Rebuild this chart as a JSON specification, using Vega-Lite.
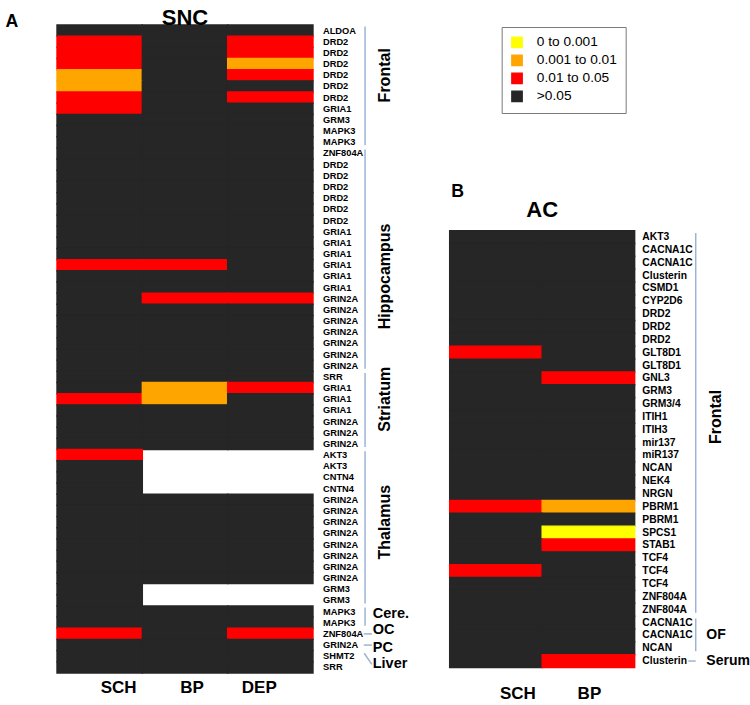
{
  "$schema": "https://vega.github.io/schema/vega-lite/v6.json",
  "padding": {"left": 5, "top": 7, "right": 0, "bottom": 0},
  "config": {"font": "Liberation Sans", "view": {"stroke": null}},
  "spacing": 50.67,
  "bounds": "flush",
  "resolve": {"scale": {"color": "independent", "stroke": "independent"}, "legend": {"color": "independent", "stroke": "independent"}},
  "datasets": {
    "A": [
      {"r": 1, "g": "ALDOA", "SCH": ">0.05", "BP": ">0.05", "DEP": ">0.05"},
      {"r": 2, "g": "DRD2", "SCH": "0.01 to 0.05", "BP": ">0.05", "DEP": "0.01 to 0.05"},
      {"r": 3, "g": "DRD2", "SCH": "0.01 to 0.05", "BP": ">0.05", "DEP": "0.01 to 0.05"},
      {"r": 4, "g": "DRD2", "SCH": "0.01 to 0.05", "BP": ">0.05", "DEP": "0.001 to 0.01"},
      {"r": 5, "g": "DRD2", "SCH": "0.001 to 0.01", "BP": ">0.05", "DEP": "0.01 to 0.05"},
      {"r": 6, "g": "DRD2", "SCH": "0.001 to 0.01", "BP": ">0.05", "DEP": ">0.05"},
      {"r": 7, "g": "DRD2", "SCH": "0.01 to 0.05", "BP": ">0.05", "DEP": "0.01 to 0.05"},
      {"r": 8, "g": "GRIA1", "SCH": "0.01 to 0.05", "BP": ">0.05", "DEP": ">0.05"},
      {"r": 9, "g": "GRM3", "SCH": ">0.05", "BP": ">0.05", "DEP": ">0.05"},
      {"r": 10, "g": "MAPK3", "SCH": ">0.05", "BP": ">0.05", "DEP": ">0.05"},
      {"r": 11, "g": "MAPK3", "SCH": ">0.05", "BP": ">0.05", "DEP": ">0.05"},
      {"r": 12, "g": "ZNF804A", "SCH": ">0.05", "BP": ">0.05", "DEP": ">0.05"},
      {"r": 13, "g": "DRD2", "SCH": ">0.05", "BP": ">0.05", "DEP": ">0.05"},
      {"r": 14, "g": "DRD2", "SCH": ">0.05", "BP": ">0.05", "DEP": ">0.05"},
      {"r": 15, "g": "DRD2", "SCH": ">0.05", "BP": ">0.05", "DEP": ">0.05"},
      {"r": 16, "g": "DRD2", "SCH": ">0.05", "BP": ">0.05", "DEP": ">0.05"},
      {"r": 17, "g": "DRD2", "SCH": ">0.05", "BP": ">0.05", "DEP": ">0.05"},
      {"r": 18, "g": "DRD2", "SCH": ">0.05", "BP": ">0.05", "DEP": ">0.05"},
      {"r": 19, "g": "GRIA1", "SCH": ">0.05", "BP": ">0.05", "DEP": ">0.05"},
      {"r": 20, "g": "GRIA1", "SCH": ">0.05", "BP": ">0.05", "DEP": ">0.05"},
      {"r": 21, "g": "GRIA1", "SCH": ">0.05", "BP": ">0.05", "DEP": ">0.05"},
      {"r": 22, "g": "GRIA1", "SCH": "0.01 to 0.05", "BP": "0.01 to 0.05", "DEP": ">0.05"},
      {"r": 23, "g": "GRIA1", "SCH": ">0.05", "BP": ">0.05", "DEP": ">0.05"},
      {"r": 24, "g": "GRIA1", "SCH": ">0.05", "BP": ">0.05", "DEP": ">0.05"},
      {"r": 25, "g": "GRIN2A", "SCH": ">0.05", "BP": "0.01 to 0.05", "DEP": "0.01 to 0.05"},
      {"r": 26, "g": "GRIN2A", "SCH": ">0.05", "BP": ">0.05", "DEP": ">0.05"},
      {"r": 27, "g": "GRIN2A", "SCH": ">0.05", "BP": ">0.05", "DEP": ">0.05"},
      {"r": 28, "g": "GRIN2A", "SCH": ">0.05", "BP": ">0.05", "DEP": ">0.05"},
      {"r": 29, "g": "GRIN2A", "SCH": ">0.05", "BP": ">0.05", "DEP": ">0.05"},
      {"r": 30, "g": "GRIN2A", "SCH": ">0.05", "BP": ">0.05", "DEP": ">0.05"},
      {"r": 31, "g": "GRIN2A", "SCH": ">0.05", "BP": ">0.05", "DEP": ">0.05"},
      {"r": 32, "g": "SRR", "SCH": ">0.05", "BP": ">0.05", "DEP": ">0.05"},
      {"r": 33, "g": "GRIA1", "SCH": ">0.05", "BP": "0.001 to 0.01", "DEP": "0.01 to 0.05"},
      {"r": 34, "g": "GRIA1", "SCH": "0.01 to 0.05", "BP": "0.001 to 0.01", "DEP": ">0.05"},
      {"r": 35, "g": "GRIA1", "SCH": ">0.05", "BP": ">0.05", "DEP": ">0.05"},
      {"r": 36, "g": "GRIN2A", "SCH": ">0.05", "BP": ">0.05", "DEP": ">0.05"},
      {"r": 37, "g": "GRIN2A", "SCH": ">0.05", "BP": ">0.05", "DEP": ">0.05"},
      {"r": 38, "g": "GRIN2A", "SCH": ">0.05", "BP": ">0.05", "DEP": ">0.05"},
      {"r": 39, "g": "AKT3", "SCH": "0.01 to 0.05", "BP": null, "DEP": null},
      {"r": 40, "g": "AKT3", "SCH": ">0.05", "BP": null, "DEP": null},
      {"r": 41, "g": "CNTN4", "SCH": ">0.05", "BP": null, "DEP": null},
      {"r": 42, "g": "CNTN4", "SCH": ">0.05", "BP": null, "DEP": null},
      {"r": 43, "g": "GRIN2A", "SCH": ">0.05", "BP": ">0.05", "DEP": ">0.05"},
      {"r": 44, "g": "GRIN2A", "SCH": ">0.05", "BP": ">0.05", "DEP": ">0.05"},
      {"r": 45, "g": "GRIN2A", "SCH": ">0.05", "BP": ">0.05", "DEP": ">0.05"},
      {"r": 46, "g": "GRIN2A", "SCH": ">0.05", "BP": ">0.05", "DEP": ">0.05"},
      {"r": 47, "g": "GRIN2A", "SCH": ">0.05", "BP": ">0.05", "DEP": ">0.05"},
      {"r": 48, "g": "GRIN2A", "SCH": ">0.05", "BP": ">0.05", "DEP": ">0.05"},
      {"r": 49, "g": "GRIN2A", "SCH": ">0.05", "BP": ">0.05", "DEP": ">0.05"},
      {"r": 50, "g": "GRIN2A", "SCH": ">0.05", "BP": ">0.05", "DEP": ">0.05"},
      {"r": 51, "g": "GRM3", "SCH": ">0.05", "BP": null, "DEP": null},
      {"r": 52, "g": "GRM3", "SCH": ">0.05", "BP": null, "DEP": null},
      {"r": 53, "g": "MAPK3", "SCH": ">0.05", "BP": ">0.05", "DEP": ">0.05"},
      {"r": 54, "g": "MAPK3", "SCH": ">0.05", "BP": ">0.05", "DEP": ">0.05"},
      {"r": 55, "g": "ZNF804A", "SCH": "0.01 to 0.05", "BP": ">0.05", "DEP": "0.01 to 0.05"},
      {"r": 56, "g": "GRIN2A", "SCH": ">0.05", "BP": ">0.05", "DEP": ">0.05"},
      {"r": 57, "g": "SHMT2", "SCH": ">0.05", "BP": ">0.05", "DEP": ">0.05"},
      {"r": 58, "g": "SRR", "SCH": ">0.05", "BP": ">0.05", "DEP": ">0.05"}
    ],
    "B": [
      {"r": 1, "g": "AKT3", "SCH": ">0.05", "BP": ">0.05"},
      {"r": 2, "g": "CACNA1C", "SCH": ">0.05", "BP": ">0.05"},
      {"r": 3, "g": "CACNA1C", "SCH": ">0.05", "BP": ">0.05"},
      {"r": 4, "g": "Clusterin", "SCH": ">0.05", "BP": ">0.05"},
      {"r": 5, "g": "CSMD1", "SCH": ">0.05", "BP": ">0.05"},
      {"r": 6, "g": "CYP2D6", "SCH": ">0.05", "BP": ">0.05"},
      {"r": 7, "g": "DRD2", "SCH": ">0.05", "BP": ">0.05"},
      {"r": 8, "g": "DRD2", "SCH": ">0.05", "BP": ">0.05"},
      {"r": 9, "g": "DRD2", "SCH": ">0.05", "BP": ">0.05"},
      {"r": 10, "g": "GLT8D1", "SCH": "0.01 to 0.05", "BP": ">0.05"},
      {"r": 11, "g": "GLT8D1", "SCH": ">0.05", "BP": ">0.05"},
      {"r": 12, "g": "GNL3", "SCH": ">0.05", "BP": "0.01 to 0.05"},
      {"r": 13, "g": "GRM3", "SCH": ">0.05", "BP": ">0.05"},
      {"r": 14, "g": "GRM3/4", "SCH": ">0.05", "BP": ">0.05"},
      {"r": 15, "g": "ITIH1", "SCH": ">0.05", "BP": ">0.05"},
      {"r": 16, "g": "ITIH3", "SCH": ">0.05", "BP": ">0.05"},
      {"r": 17, "g": "mir137", "SCH": ">0.05", "BP": ">0.05"},
      {"r": 18, "g": "miR137", "SCH": ">0.05", "BP": ">0.05"},
      {"r": 19, "g": "NCAN", "SCH": ">0.05", "BP": ">0.05"},
      {"r": 20, "g": "NEK4", "SCH": ">0.05", "BP": ">0.05"},
      {"r": 21, "g": "NRGN", "SCH": ">0.05", "BP": ">0.05"},
      {"r": 22, "g": "PBRM1", "SCH": "0.01 to 0.05", "BP": "0.001 to 0.01"},
      {"r": 23, "g": "PBRM1", "SCH": ">0.05", "BP": ">0.05"},
      {"r": 24, "g": "SPCS1", "SCH": ">0.05", "BP": "0 to 0.001"},
      {"r": 25, "g": "STAB1", "SCH": ">0.05", "BP": "0.01 to 0.05"},
      {"r": 26, "g": "TCF4", "SCH": ">0.05", "BP": ">0.05"},
      {"r": 27, "g": "TCF4", "SCH": "0.01 to 0.05", "BP": ">0.05"},
      {"r": 28, "g": "TCF4", "SCH": ">0.05", "BP": ">0.05"},
      {"r": 29, "g": "ZNF804A", "SCH": ">0.05", "BP": ">0.05"},
      {"r": 30, "g": "ZNF804A", "SCH": ">0.05", "BP": ">0.05"},
      {"r": 31, "g": "CACNA1C", "SCH": ">0.05", "BP": ">0.05"},
      {"r": 32, "g": "CACNA1C", "SCH": ">0.05", "BP": ">0.05"},
      {"r": 33, "g": "NCAN", "SCH": ">0.05", "BP": ">0.05"},
      {"r": 34, "g": "Clusterin", "SCH": ">0.05", "BP": "0.01 to 0.05"}
    ]
  },
  "hconcat": [
    {
      "width": 341.33,
      "height": 648,
      "title": {"text": "SNC", "fontSize": 22, "fontWeight": "bold", "anchor": "middle", "frame": "group", "baseline": "alphabetic", "offset": 0, "dx": -42.67, "dy": 35, "color": "black"},
      "layer": [
        {
          "data": {"name": "A"},
          "transform": [{"fold": ["SCH", "BP", "DEP"], "as": ["col", "p"]}, {"filter": "datum.p != null"}],
          "mark": {"type": "rect", "strokeWidth": 1.4, "strokeOpacity": 1},
          "encoding": {
            "x": {"field": "col", "type": "nominal",
              "scale": {"domain": ["SCH", "BP", "DEP", "_g"], "paddingInner": 0, "paddingOuter": 0},
              "axis": {"values": ["SCH", "BP", "DEP"], "orient": "bottom", "domain": false, "ticks": false, "labelFontSize": 17, "labelFontWeight": "bold", "labelColor": "black", "labelPadding": 6.7, "labelAngle": 0, "title": null,
                "labelOffset": {"condition": [{"test": "datum.value === 'SCH'", "value": 19}, {"test": "datum.value === 'BP'", "value": 7}], "value": -11}}},
            "y": {"field": "r", "type": "ordinal",
              "scale": {"domain": [1,2,3,4,5,6,7,8,9,10,11,12,13,14,15,16,17,18,19,20,21,22,23,24,25,26,27,28,29,30,31,32,33,34,35,36,37,38,39,40,41,42,43,44,45,46,47,48,49,50,51,52,53,54,55,56,57,58], "paddingInner": 0, "paddingOuter": 0},
              "axis": {"labels": false, "ticks": false, "domain": false, "grid": false, "title": "A", "titleAngle": 0, "titleX": -52, "titleY": 1, "titleAlign": "left", "titleBaseline": "alphabetic", "titleFontSize": 17.7, "titleFontWeight": "bold", "titleColor": "black"}},
            "color": {"field": "p", "type": "nominal",
              "scale": {"domain": ["0 to 0.001", "0.001 to 0.01", "0.01 to 0.05", ">0.05"], "range": ["#ffff00", "#ffa500", "#ff0000", "#262626"]},
              "legend": null},
            "stroke": {"field": "p", "type": "nominal",
              "scale": {"domain": ["0 to 0.001", "0.001 to 0.01", "0.01 to 0.05", ">0.05"], "range": ["#ffff00", "#ffa500", "#ff0000", "#262626"]},
              "legend": null}
          }
        },
        {
          "data": {"name": "A"},
          "mark": {"type": "text", "align": "left", "baseline": "middle", "fontSize": 9.3, "fontWeight": "bold", "color": "black"},
          "encoding": {
            "x": {"datum": "_g", "type": "nominal", "bandPosition": 0.117},
            "y": {"field": "r", "type": "ordinal"},
            "text": {"field": "g"}
          }
        },
        {
          "data": {"values": [{"r1": 1, "r2": 11}, {"r1": 12, "r2": 31}, {"r1": 32, "r2": 38}, {"r1": 39, "r2": 52}, {"r1": 53, "r2": 54}]},
          "mark": {"type": "rule", "color": "#9cb4d4", "strokeWidth": 1.5, "yOffset": -4, "y2Offset": 3},
          "encoding": {
            "x": {"datum": "_g", "type": "nominal", "bandPosition": 0.61},
            "y": {"field": "r1", "type": "ordinal"},
            "y2": {"field": "r2"}
          }
        },
        {
          "data": {"values": [{"r": 55}, {"r": 56}]},
          "mark": {"type": "rule", "color": "#9cb4d4", "strokeWidth": 1.5},
          "encoding": {
            "x": {"datum": "_g", "type": "nominal", "bandPosition": 0.595},
            "x2": {"datum": "_g", "bandPosition": 0.69},
            "y": {"field": "r", "type": "ordinal"}
          }
        },
        {
          "data": {"values": [{"r1": 57, "r2": 58}]},
          "mark": {"type": "rule", "color": "#9cb4d4", "strokeWidth": 1.5, "yOffset": -3, "y2Offset": -3},
          "encoding": {
            "x": {"datum": "_g", "type": "nominal", "bandPosition": 0.6},
            "x2": {"datum": "_g", "bandPosition": 0.69},
            "y": {"field": "r1", "type": "ordinal"},
            "y2": {"field": "r2"}
          }
        },
        {
          "data": {"values": [{"t": "Frontal", "lr": 5}, {"t": "Hippocampus", "lr": 23}, {"t": "Striatum", "lr": 34}, {"t": "Thalamus", "lr": 45}]},
          "mark": {"type": "text", "align": "center", "baseline": "middle", "angle": 270, "fontSize": 16, "fontWeight": "bold", "color": "black"},
          "encoding": {
            "x": {"datum": "_g", "type": "nominal", "bandPosition": 0.845},
            "y": {"field": "lr", "type": "ordinal"},
            "text": {"field": "t"}
          }
        },
        {
          "data": {"values": [{"t": "Cere.", "lr": 53}, {"t": "PC", "lr": 56}]},
          "mark": {"type": "text", "align": "left", "baseline": "middle", "fontSize": 14.5, "fontWeight": "bold", "color": "black", "dy": 2.5},
          "encoding": {
            "x": {"datum": "_g", "type": "nominal", "bandPosition": 0.70},
            "y": {"field": "lr", "type": "ordinal"},
            "text": {"field": "t"}
          }
        },
        {
          "data": {"values": [{"t": "OC", "lr": 55}, {"t": "Liver", "lr": 58}]},
          "mark": {"type": "text", "align": "left", "baseline": "middle", "fontSize": 14.5, "fontWeight": "bold", "color": "black", "dy": -3.5},
          "encoding": {
            "x": {"datum": "_g", "type": "nominal", "bandPosition": 0.70},
            "y": {"field": "lr", "type": "ordinal"},
            "text": {"field": "t"}
          }
        }
      ]
    },
    {
      "width": 277.5,
      "height": 648,
      "title": {"text": "AC", "fontSize": 22, "fontWeight": "bold", "anchor": "middle", "frame": "group", "baseline": "alphabetic", "offset": 0, "dx": -46.25, "dy": 214, "color": "black"},
      "layer": [
        {
          "data": {"name": "B"},
          "transform": [{"fold": ["SCH", "BP"], "as": ["col", "p"]}, {"filter": "datum.p != null"}],
          "mark": {"type": "rect", "strokeWidth": 1.4, "strokeOpacity": 1},
          "encoding": {
            "x": {"field": "col", "type": "nominal",
              "scale": {"domain": ["SCH", "BP", "_g"], "paddingInner": 0, "paddingOuter": 0},
              "axis": {"values": ["SCH", "BP"], "orient": "bottom", "domain": false, "ticks": false, "labelFontSize": 17, "labelFontWeight": "bold", "labelColor": "black", "labelPadding": 12.7, "labelAngle": 0, "title": null,
                "labelOffset": {"condition": [{"test": "datum.value === 'SCH'", "value": 22}], "value": 1}}},
            "y": {"field": "r", "type": "ordinal",
              "scale": {"domain": [-15,-14,-13,-12,-11,-10,-9,-8,-7,-6,-5,-4,-3,-2,-1,0,1,2,3,4,5,6,7,8,9,10,11,12,13,14,15,16,17,18,19,20,21,22,23,24,25,26,27,28,29,30,31,32,33,34], "paddingInner": 0, "paddingOuter": 0.215, "align": 0},
              "axis": {"labels": false, "ticks": false, "domain": false, "grid": false, "title": "B", "titleAngle": 0, "titleX": 1, "titleY": 171, "titleAlign": "left", "titleBaseline": "alphabetic", "titleFontSize": 17.7, "titleFontWeight": "bold", "titleColor": "black"}},
            "color": {"field": "p", "type": "nominal",
              "scale": {"domain": ["0 to 0.001", "0.001 to 0.01", "0.01 to 0.05", ">0.05"], "range": ["#ffff00", "#ffa500", "#ff0000", "#262626"]},
              "legend": {"orient": "none", "legendX": 52, "legendY": 2, "title": null, "direction": "vertical", "symbolType": "square", "symbolSize": 110, "symbolStrokeColor": "#333333", "symbolStrokeWidth": 1.2, "labelFontSize": 13.7, "labelFont": "Liberation Sans", "labelColor": "black", "padding": 8.5, "strokeColor": "#7a7a7a", "fillColor": "white", "rowPadding": 2, "labelOffset": 13}},
            "stroke": {"field": "p", "type": "nominal",
              "scale": {"domain": ["0 to 0.001", "0.001 to 0.01", "0.01 to 0.05", ">0.05"], "range": ["#ffff00", "#ffa500", "#ff0000", "#262626"]},
              "legend": null}
          }
        },
        {
          "data": {"name": "B"},
          "mark": {"type": "text", "align": "left", "baseline": "middle", "fontSize": 10.3, "fontWeight": "bold", "color": "black"},
          "encoding": {
            "x": {"datum": "_g", "type": "nominal", "bandPosition": 0.083},
            "y": {"field": "r", "type": "ordinal"},
            "text": {"field": "g"}
          }
        },
        {
          "data": {"values": [{"r1": 1, "r2": 30}, {"r1": 31, "r2": 33}]},
          "mark": {"type": "rule", "color": "#9cb4d4", "strokeWidth": 1.5, "yOffset": -4, "y2Offset": 3},
          "encoding": {
            "x": {"datum": "_g", "type": "nominal", "bandPosition": 0.66},
            "y": {"field": "r1", "type": "ordinal"},
            "y2": {"field": "r2"}
          }
        },
        {
          "data": {"values": [{"r": 34}]},
          "mark": {"type": "rule", "color": "#9cb4d4", "strokeWidth": 1.5},
          "encoding": {
            "x": {"datum": "_g", "type": "nominal", "bandPosition": 0.58},
            "x2": {"datum": "_g", "bandPosition": 0.66},
            "y": {"field": "r", "type": "ordinal"}
          }
        },
        {
          "data": {"values": [{"t": "Frontal", "lr": 15}]},
          "mark": {"type": "text", "align": "center", "baseline": "middle", "angle": 270, "fontSize": 16, "fontWeight": "bold", "color": "black"},
          "encoding": {
            "x": {"datum": "_g", "type": "nominal", "bandPosition": 0.876},
            "y": {"field": "lr", "type": "ordinal"},
            "text": {"field": "t"}
          }
        },
        {
          "data": {"values": [{"t": "OF", "lr": 32}, {"t": "Serum", "lr": 34}]},
          "mark": {"type": "text", "align": "left", "baseline": "middle", "fontSize": 14, "fontWeight": "bold", "color": "black"},
          "encoding": {
            "x": {"datum": "_g", "type": "nominal", "bandPosition": 0.775},
            "y": {"field": "lr", "type": "ordinal"},
            "text": {"field": "t"}
          }
        }
      ]
    }
  ]
}
